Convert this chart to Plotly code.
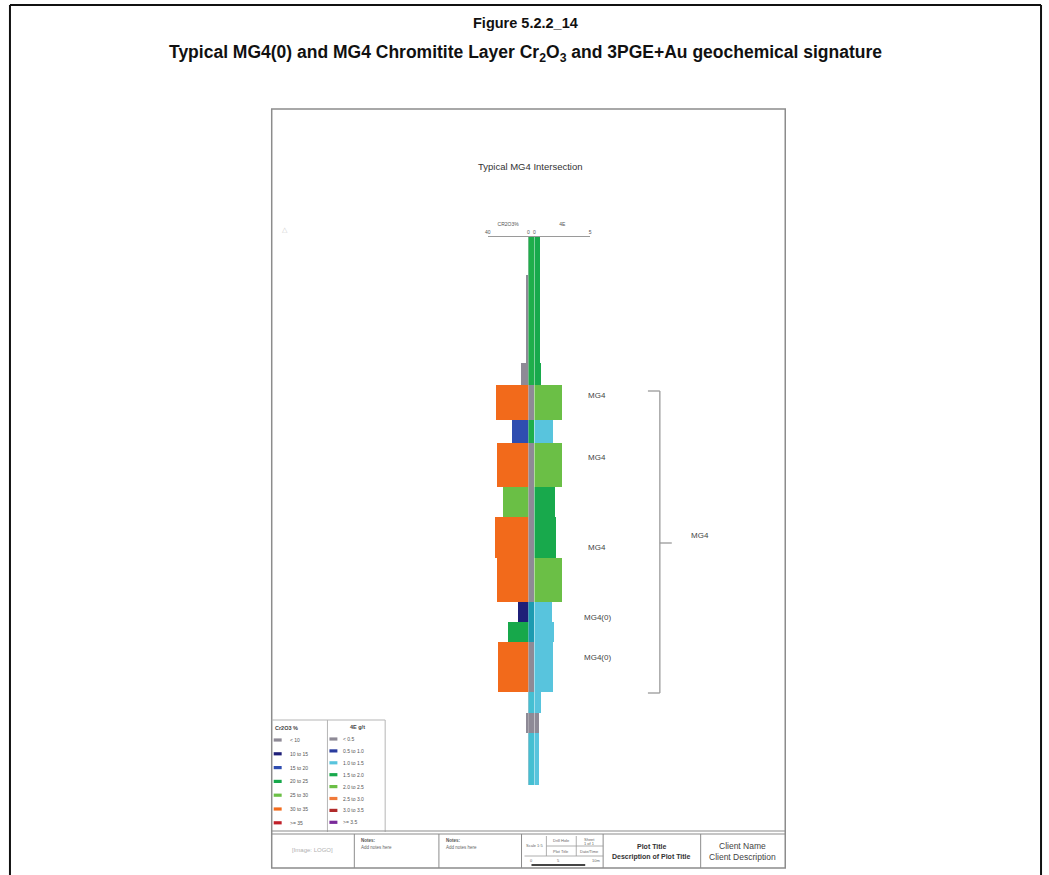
import plotly.graph_objects as go
from bisect import bisect_right

W, H = 1049, 875
def px(x):
    return x / W
def py(y):
    return 1 - y / H

# ---------------- data ----------------
depth_from = [0.00, 0.38, 1.26, 1.48, 1.83, 2.06, 2.50, 2.80, 3.21, 3.65, 3.85, 4.05, 4.55, 4.76, 4.96]
depth_to   = [0.38, 1.26, 1.48, 1.83, 2.06, 2.50, 2.80, 3.21, 3.65, 3.85, 4.05, 4.55, 4.76, 4.96, 5.48]
cr2o3_pct  = [0.3, 3.0, 8.0, 32.0, 16.0, 31.5, 25.5, 33.0, 31.0, 11.0, 20.5, 30.5, 0.3, 3.0, 0.3]
pge_gpt    = [0.55, 0.55, 0.6, 2.5, 1.7, 2.5, 1.9, 1.95, 2.5, 1.6, 1.8, 1.7, 0.6, 0.45, 0.45]
pge_class  = [3, 3, 3, 4, 2, 4, 3, 3, 4, 2, 2, 2, 2, 0, 2]
lith_code  = ["PX", "PX", "PX", "CHR", "PX", "CHR", "CHR", "CHR", "CHR", "NR", "NR", "CHR", "CY", "CHR", "CY"]

cr_bins = [10, 15, 20, 25, 30, 35]
cr_legend = ["< 10", "10 to 15", "15 to 20", "20 to 25", "25 to 30", "30 to 35", ">= 35"]
pge_legend = ["< 0.5", "0.5 to 1.0", "1.0 to 1.5", "1.5 to 2.0", "2.0 to 2.5", "2.5 to 3.0", "3.0 to 3.5", ">= 3.5"]

layer_names = ["MG4", "MG4", "MG4", "MG4(0)", "MG4(0)"]
layer_depth = [1.58, 2.20, 3.10, 3.80, 4.20]
group_name = "MG4"
group_top, group_mid, group_bot = 1.54, 3.06, 4.56

# ---------------- styles ----------------
cr_colors = ["#8e8a96", "#1f1f78", "#2f4db0", "#17a84b", "#6abf45", "#f26a1b", "#c0202a"]
pge_colors = ["#8e8a96", "#2a3c9e", "#58c4dd", "#18a94c", "#6bbf46", "#f07a3a", "#b02a2a", "#7a2a9a"]
lith_colors = {"PX": "#1fae4b", "CHR": "#8e8a96", "NR": "#1c9bb0", "CY": "#45bfd2"}

FONT = "Liberation Sans, Arial, sans-serif"

mids = [(a + b) / 2 for a, b in zip(depth_from, depth_to)]
thick = [b - a for a, b in zip(depth_from, depth_to)]
cr_col = [cr_colors[bisect_right(cr_bins, v)] for v in cr2o3_pct]
pge_col = [pge_colors[c] for c in pge_class]
lith_col = [lith_colors[c] for c in lith_code]

fig = go.Figure()
fig.add_trace(go.Bar(x=cr2o3_pct, y=mids, width=thick, orientation="h",
                     marker=dict(color=cr_col, line=dict(width=0)),
                     xaxis="x", yaxis="y", showlegend=False, hoverinfo="x+y"))
fig.add_trace(go.Bar(x=[1] * len(mids), y=mids, width=thick, orientation="h",
                     marker=dict(color=lith_col, line=dict(width=0)),
                     xaxis="x2", yaxis="y", showlegend=False, hoverinfo="y"))
fig.add_trace(go.Bar(x=pge_gpt, y=mids, width=thick, orientation="h",
                     marker=dict(color=pge_col, line=dict(width=0)),
                     xaxis="x3", yaxis="y", showlegend=False, hoverinfo="x+y"))

Y_TOP, Y_BOT = 237, 790
depth_range = (Y_BOT - Y_TOP) / 100.0

axcommon = dict(side="top", anchor="y", showline=True, linecolor="#9a9a9a", linewidth=1,
                showgrid=False, zeroline=False, ticks="",
                tickfont=dict(size=5, color="#555", family=FONT))
fig.update_layout(
    width=W, height=H, margin=dict(l=0, r=0, t=0, b=0),
    paper_bgcolor="white", plot_bgcolor="rgba(0,0,0,0)",
    barmode="overlay", bargap=0,
    xaxis=dict(domain=[px(487), px(528)], range=[40, 0], tickvals=[40, 0], ticktext=["40", "0"],
               title=dict(text="CR2O3%", font=dict(size=5, color="#555", family=FONT), standoff=2),
               **axcommon),
    xaxis2=dict(domain=[px(528), px(534)], range=[0, 1], showticklabels=False, **axcommon),
    xaxis3=dict(domain=[px(534), px(590)], range=[0, 5], tickvals=[0, 5], ticktext=["0", "5"],
                title=dict(text="4E", font=dict(size=5, color="#555", family=FONT), standoff=2),
                **axcommon),
    yaxis=dict(domain=[py(Y_BOT), py(Y_TOP)], range=[depth_range, 0], visible=False),
    font=dict(family=FONT),
)

shapes = []
ann = []

def line(x0, y0, x1, y1, color, w=1, xref="paper", yref="paper"):
    shapes.append(dict(type="line", x0=x0, y0=y0, x1=x1, y1=y1, xref=xref, yref=yref,
                       line=dict(color=color, width=w)))

def text(x, y, s, size, color="#333", bold=False, xanchor="center", yref="paper"):
    if bold:
        s = "<b>" + s + "</b>"
    ann.append(dict(x=x, y=y, xref="paper", yref=yref, text=s, showarrow=False,
                    xanchor=xanchor, yanchor="middle",
                    font=dict(size=size, color=color, family=FONT)))

# outer frame
line(px(7), py(5), px(7), py(875), "#111", 2)
line(px(7), py(5), px(1043), py(5), "#111", 2)
line(px(1043), py(5), px(1043), py(875), "#111", 2)

# titles
text(px(525), py(23), "Figure 5.2.2_14", 14.5, "#111", True)
text(px(525), py(53), "Typical MG4(0) and MG4 Chromitite Layer Cr<sub>2</sub>O<sub>3</sub> and 3PGE+Au geochemical signature",
     17.5, "#111", True)

# page
shapes.append(dict(type="rect", x0=px(270), y0=py(109), x1=px(786), y1=py(868), xref="paper", yref="paper",
                   line=dict(color="#8c8c8c", width=1.5)))
text(px(530), py(167), "Typical MG4 Intersection", 9.5, "#333")
text(px(283), py(229), "△", 7, "#cccccc")

# layer labels
for name, d in zip(layer_names, layer_depth):
    text(px(597), d, name, 8, "#444", yref="y")

# bracket
bc = "#9a9a9a"
line(px(648), group_top, px(660), group_top, bc, 1.3, yref="y")
line(px(660), group_top, px(660), group_bot, bc, 1.3, yref="y")
line(px(648), group_bot, px(660), group_bot, bc, 1.3, yref="y")
line(px(660), group_mid, px(672), group_mid, bc, 1.3, yref="y")
text(px(700), group_mid - 0.08, group_name, 8, "#444", yref="y")

# legend box
lc = "#b5b5b5"
line(px(270), py(720), px(384), py(720), lc, 1)
line(px(326), py(720), px(326), py(832), lc, 1)
line(px(384), py(720), px(384), py(832), lc, 1)
text(px(271), py(728), "Cr2O3 %", 5.5, "#444", True, "left")
text(px(356), py(727), "4E g/t", 5.5, "#444", True, "center")
for i, lab in enumerate(cr_legend):
    yy = 740 + i * 13.8
    shapes.append(dict(type="rect", x0=px(272), x1=px(280), y0=py(yy - 1.6), y1=py(yy + 1.6),
                       xref="paper", yref="paper", fillcolor=cr_colors[i], line=dict(width=0)))
    text(px(286), py(yy), lab, 5, "#555", False, "left")
for i, lab in enumerate(pge_legend):
    yy = 739 + i * 11.9
    shapes.append(dict(type="rect", x0=px(328), x1=px(336), y0=py(yy - 1.6), y1=py(yy + 1.6),
                       xref="paper", yref="paper", fillcolor=pge_colors[i], line=dict(width=0)))
    text(px(340), py(yy), lab, 5, "#555", False, "left")

# title block
tb = "#8c8c8c"
line(px(270), py(831), px(786), py(831), tb, 1.2)
line(px(270), py(834), px(786), py(834), tb, 1.2)
for xv in [353, 438, 521, 603, 701]:
    line(px(xv), py(834), px(xv), py(868), tb, 1)
text(px(311), py(850), "[Image: LOGO]", 6, "#b0b0b0")
for x0 in [358, 443]:
    text(px(x0), py(840), "Notes:", 4.5, "#555", True, "left")
    text(px(x0), py(847), "Add notes here", 4.5, "#666", False, "left")
# mini scale table
mc = "#9a9a9a"
line(px(546), py(836), px(546), py(856), mc, 0.8)
line(px(576), py(836), px(576), py(856), mc, 0.8)
line(px(546), py(846), px(603), py(846), mc, 0.8)
line(px(524), py(856), px(603), py(856), mc, 0.8)
text(px(534), py(845), "Scale 1:5", 4, "#666")
text(px(561), py(840), "Drill Hole", 4, "#666")
text(px(589), py(839), "Sheet", 4, "#666")
text(px(589), py(843), "1 of 1", 4, "#666")
text(px(561), py(851), "Plot Title", 4, "#666")
text(px(589), py(851), "Date/Time", 4, "#666")
text(px(531), py(860), "0", 4, "#666")
text(px(558), py(860), "5", 4, "#666")
text(px(596), py(860), "10m", 4, "#666")
line(px(531), py(865), px(585), py(865), "#444", 1.8)
text(px(652), py(846), "Plot Title", 7, "#333", True)
text(px(652), py(857), "Description of Plot Title", 7, "#333", True)
text(px(743), py(846), "Client Name", 8.5, "#444")
text(px(743), py(857), "Client Description", 8.5, "#444")

fig.update_layout(shapes=shapes, annotations=ann)
fig.write_html("out.html", config={"displayModeBar": False},
               post_script="document.body.style.margin='0';document.body.style.overflow='hidden';")
